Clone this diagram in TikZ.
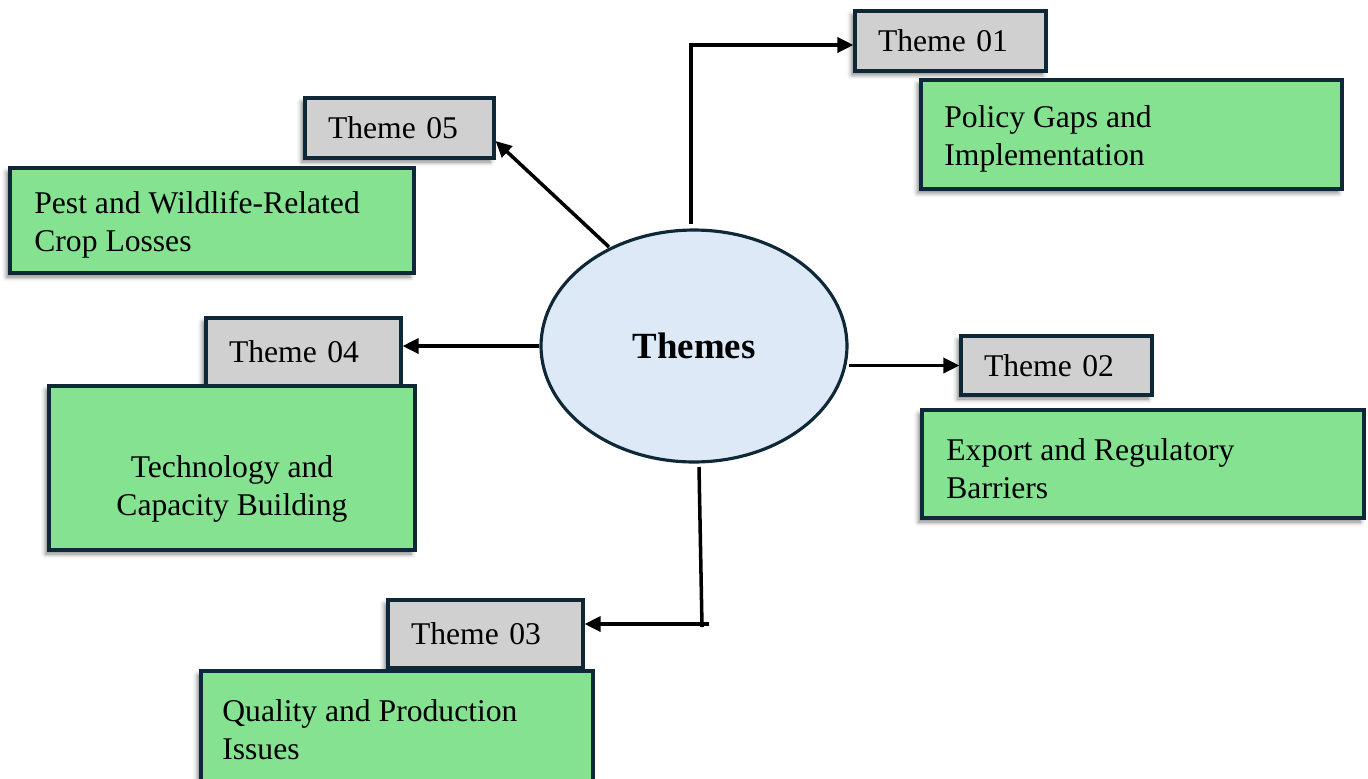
\documentclass[tikz,border=0pt]{standalone}
\usepackage{fontspec}
\setmainfont{Liberation Serif}
\usetikzlibrary{shapes.geometric,arrows.meta,shadows.blur}
\definecolor{bordc}{RGB}{14,40,56}
\definecolor{greenf}{RGB}{132,226,145}
\definecolor{grayf}{RGB}{208,208,208}
\definecolor{ellf}{RGB}{221,233,246}
\begin{document}
\begin{tikzpicture}[x=0.02cm,y=-0.02cm,
  shad/.style={blur shadow={shadow xshift=-0.07cm,shadow yshift=-0.08cm,shadow blur radius=0.09cm,shadow opacity=50}},
  graybox/.style={draw=bordc,line width=1.8pt,fill=grayf,shad,inner xsep=0.46cm,inner ysep=0pt,align=left,
     font=\fontsize{18pt}{21.5pt}\selectfont},
  greenbox/.style={draw=bordc,line width=1.8pt,fill=greenf,shad,inner sep=0pt},
  boxtext/.style={inner sep=0pt,font=\fontsize{18pt}{21.5pt}\selectfont},
  arr/.style={line width=2pt,-{Triangle[length=0.32cm,width=0.3cm]}},
  plain/.style={line width=2pt}]
\useasboundingbox (0,0) rectangle (1368,778);

% central ellipse
\node[ellipse,draw=bordc,line width=1.8pt,fill=ellf,minimum width=6.12cm,minimum height=4.64cm,inner sep=0pt,
  font=\bfseries\fontsize{21pt}{25pt}\selectfont] (themes) at (694,346) {Themes};

% gray theme boxes
\node[graybox,minimum width=3.82cm,minimum height=1.2cm,text width=2.9cm] (t01) at (950.5,41) {Theme 01};
\node[graybox,minimum width=3.78cm,minimum height=1.2cm,text width=2.86cm] (t05) at (399.5,128) {Theme 05};
\node[graybox,minimum width=3.9cm,minimum height=1.36cm,text width=2.98cm] (t04) at (303.5,352) {Theme 04};
\node[graybox,minimum width=3.82cm,minimum height=1.18cm,text width=2.9cm] (t02) at (1056.5,365.5) {Theme 02};
\node[graybox,minimum width=3.9cm,minimum height=1.36cm,text width=2.98cm] (t03) at (485.5,634) {Theme 03};

% green description boxes
\node[greenbox,minimum width=8.42cm,minimum height=2.18cm] (g1) at (1131.5,134.5) {};
\node[greenbox,minimum width=8.08cm,minimum height=2.1cm] (g5) at (212,220.5) {};
\node[greenbox,minimum width=7.32cm,minimum height=3.28cm] (g4) at (232,468) {};
\node[greenbox,minimum width=8.84cm,minimum height=2.16cm] (g2) at (1143,464) {};
\node[greenbox,minimum width=7.84cm,minimum height=2.38cm] (g3) at (397,730.5) {};

\node[boxtext,anchor=west,align=left] (g1t) at (944,139) {Policy Gaps and\\Implementation};
\node[boxtext,anchor=west,align=left] (g5t) at (34,225) {Pest and Wildlife-Related\\Crop Losses};
\node[boxtext,align=center] (g4t) at (232,489) {Technology and\\Capacity Building};
\node[boxtext,anchor=west,align=left] (g2t) at (946,469) {Export and Regulatory\\Barriers};
\node[boxtext,anchor=west,align=left] (g3t) at (222,730) {Quality and Production\\Issues};

% connectors
\coordinate (a1s) at (691,224);
\coordinate (a1e) at ([yshift=-0.08cm]t01.west);
\draw[arr] (a1s) -- (a1s |- a1e) -- (a1e);
\coordinate (a5s) at (609,247);
\draw[arr] (a5s) -- ([yshift=-0.26cm]t05.east);
\draw[arr] (themes.west) -- (t04.east |- themes.west);
\draw[arr] (t02.west -| themes.east) -- (t02.west);
\coordinate (a3s) at (699,467);
\coordinate (a3c) at (702,627);
\coordinate (a3h) at (709,624);
\draw[plain] (a3s) -- (a3c);
\draw[arr] (a3h) -- (t03.east |- a3h);
\end{tikzpicture}
\end{document}
